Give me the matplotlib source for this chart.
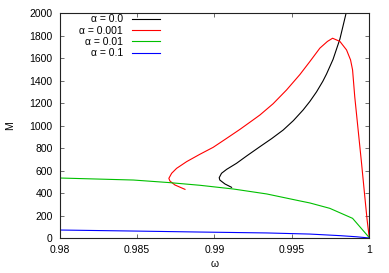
import matplotlib
matplotlib.use("Agg")
import matplotlib.pyplot as plt
import numpy as np

plt.rcParams['font.family'] = ['Liberation Sans', 'DejaVu Sans']

labels = ["α = 0.0", "α = 0.001", "α = 0.01", "α = 0.1"]
colors = ["#000000", "#ff0000", "#00c000", "#0000ff"]

w0 = [0.99111, 0.99068, 0.99035, 0.99031, 0.99046, 0.99079, 0.99143, 0.99208, 0.99294,
      0.99370, 0.99444, 0.99510, 0.99573, 0.99616, 0.99659, 0.99700, 0.99724, 0.99766,
      0.99810, 0.99850, 0.99900]
m0 = [451, 481, 516, 537, 576, 611, 665, 730, 813,
      885, 961, 1045, 1140, 1215, 1300, 1395, 1460, 1590,
      1770, 2000, 2350]

w1 = [0.98810, 0.98745, 0.98713, 0.98706, 0.98724, 0.98756, 0.98821, 0.98906, 0.98992,
      0.99079, 0.99165, 0.99251, 0.99294, 0.99379, 0.99466, 0.99552, 0.99616, 0.99681,
      0.99730, 0.99763, 0.99810, 0.99853, 0.99879, 0.99892, 0.99906, 0.99928, 0.99950,
      0.99971, 0.99986, 1.0]
m1 = [433, 472, 507, 531, 576, 620, 680, 745, 807,
      887, 967, 1052, 1095, 1195, 1318, 1455, 1570, 1690,
      1750, 1778, 1750, 1674, 1585, 1496, 1258, 961, 665,
      368, 160, 0]

w2 = [0.98, 0.98477, 0.9871, 0.98908, 0.99123, 0.99338, 0.99552, 0.99616, 0.99745, 0.99892, 1.0]
m2 = [534, 516, 493, 469, 436, 392, 330, 312, 264, 175, 3]

w3 = [0.98, 0.98477, 0.98908, 0.99338, 0.99616, 0.9981, 0.99917, 1.0]
m3 = [71, 62, 53, 45, 35, 21, 11, 0]

fig = plt.figure(figsize=(3.89, 2.73), dpi=100)
ax = fig.add_axes([59.5/389, 1 - 238/273, (369.3 - 59.5)/389, (238 - 13.3)/273])

for w, m, c, l in zip([w0, w1, w2, w3], [m0, m1, m2, m3], colors, labels):
    ax.plot(w, m, color=c, lw=0.8, label=l)

ax.set_xlim(0.98, 1.0)
ax.set_ylim(0, 2000)
ax.set_xticks([0.98, 0.985, 0.99, 0.995, 1.0])
ax.set_xticklabels(["0.98", "0.985", "0.99", "0.995", "1"])
ax.set_yticks(np.arange(0, 2001, 200))
ax.tick_params(direction='in', top=True, right=True, length=3, width=0.6,
               labelsize=7.5, color='#555555')
ax.tick_params(axis='x', pad=5)
ax.tick_params(axis='y', pad=5)
for s in ax.spines.values():
    s.set_linewidth(0.8)
    s.set_color('#222222')
ax.set_xlabel("ω", fontsize=7.5, labelpad=3)
ax.set_ylabel("M", fontsize=7.5, labelpad=10)

leg = ax.legend(loc='upper right', bbox_to_anchor=((160 - 59.5) / 309.8, 0.995),
                frameon=False, fontsize=7.5, markerfirst=False, handlelength=2.7,
                handletextpad=0.85, labelspacing=0.12, borderpad=0.0,
                borderaxespad=0.0, alignment='right')
fig.savefig("out.png", dpi=100)
